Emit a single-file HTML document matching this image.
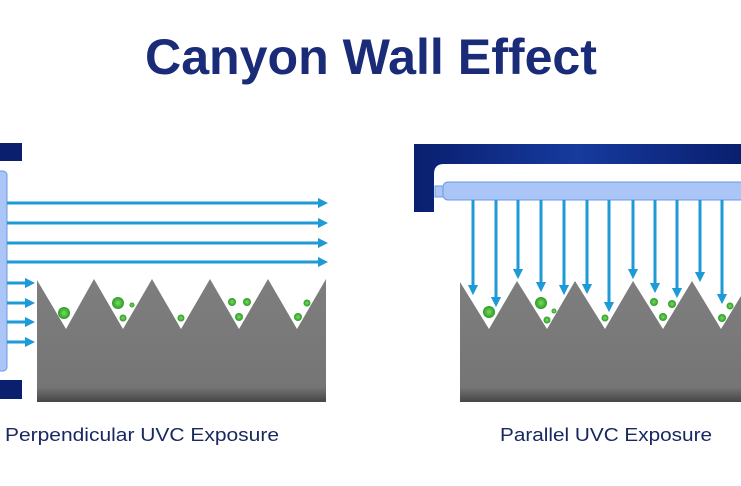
<!DOCTYPE html>
<html><head><meta charset="utf-8">
<style>
html,body{margin:0;padding:0;background:#fff;width:741px;height:486px;overflow:hidden}
svg{display:block}
text{font-family:"Liberation Sans",sans-serif}
</style></head>
<body>
<svg width="741" height="486" viewBox="0 0 741 486" xmlns="http://www.w3.org/2000/svg">
<defs>
<linearGradient id="wall" x1="0" y1="0" x2="0" y2="1">
<stop offset="0" stop-color="#7e7e7e"/><stop offset="0.88" stop-color="#757575"/><stop offset="1" stop-color="#454545"/>
</linearGradient>
<linearGradient id="brk" x1="0" y1="0" x2="1" y2="0">
<stop offset="0" stop-color="#0a1f6e"/><stop offset="0.5" stop-color="#163a9e"/><stop offset="1" stop-color="#0a1f6e"/>
</linearGradient>
<marker id="ah" markerWidth="3.4" markerHeight="3.4" refX="1.7" refY="1.7" orient="auto" markerUnits="strokeWidth">
<path d="M0,0 L3.4,1.7 L0,3.4 z" fill="#1e9ad6"/>
</marker>
<radialGradient id="vir"><stop offset="0" stop-color="#7ddc5a"/><stop offset="1" stop-color="#2a9a2a"/></radialGradient>
</defs>

<text x="371" y="74" text-anchor="middle" font-size="50" font-weight="bold" fill="#1a2b78" textLength="452" lengthAdjust="spacingAndGlyphs">Canyon Wall Effect</text>

<!-- LEFT -->
<rect x="0" y="143" width="22" height="18" fill="#0a1f6e"/>
<rect x="0" y="380" width="22" height="19" fill="#0a1f6e"/>
<rect x="-6" y="171" width="13" height="200" rx="4" fill="#a9c6f7" stroke="#6d98e6" stroke-width="1"/>
<g stroke="#1e9ad6" stroke-width="3" marker-end="url(#ah)">
<line x1="7" y1="203" x2="323" y2="203"/>
<line x1="7" y1="223" x2="323" y2="223"/>
<line x1="7" y1="243" x2="323" y2="243"/>
<line x1="7" y1="262" x2="323" y2="262"/>
<line x1="7" y1="283" x2="30" y2="283"/>
<line x1="7" y1="303" x2="30" y2="303"/>
<line x1="7" y1="322" x2="30" y2="322"/>
<line x1="7" y1="342" x2="30" y2="342"/>
</g>
<path d="M37,280 L66,329 L94,279 L123,329 L152,279 L181,329 L210,279 L239,329 L268,279 L297,329 L326,279 L326,402 L37,402 Z" fill="url(#wall)"/>
<g fill="url(#vir)">
<circle cx="64" cy="313" r="6"/><circle cx="118" cy="303" r="6"/><circle cx="132" cy="305" r="2.5"/><circle cx="123" cy="318" r="3.5"/>
<circle cx="181" cy="318" r="3.5"/><circle cx="232" cy="302" r="4"/><circle cx="247" cy="302" r="4"/><circle cx="239" cy="317" r="4"/>
<circle cx="307" cy="303" r="3.5"/><circle cx="298" cy="317" r="4"/>
</g>

<!-- RIGHT -->
<path d="M414,144 L741,144 L741,164 L444,164 Q434,164 434,174 L434,212 L414,212 Z" fill="url(#brk)"/>
<rect x="435" y="186" width="10" height="11" fill="#a9c6f7" stroke="#6d98e6"/>
<rect x="443" y="182" width="310" height="18" rx="5" fill="#a9c6f7" stroke="#6d98e6"/>
<g stroke="#1e9ad6" stroke-width="3" marker-end="url(#ah)">
<line x1="473" y1="200" x2="473" y2="290"/>
<line x1="496" y1="200" x2="496" y2="302"/>
<line x1="518" y1="200" x2="518" y2="274"/>
<line x1="541" y1="200" x2="541" y2="287"/>
<line x1="564" y1="200" x2="564" y2="290"/>
<line x1="587" y1="200" x2="587" y2="289"/>
<line x1="609" y1="200" x2="609" y2="307"/>
<line x1="633" y1="200" x2="633" y2="274"/>
<line x1="655" y1="200" x2="655" y2="288"/>
<line x1="677" y1="200" x2="677" y2="293"/>
<line x1="700" y1="200" x2="700" y2="277"/>
<line x1="722" y1="200" x2="722" y2="299"/>
</g>
<path d="M460,282 L489,329 L517,281 L547,329 L575,281 L605,329 L633,281 L663,329 L692,281 L721,329 L750,281 L750,402 L460,402 Z" fill="url(#wall)"/>
<g fill="url(#vir)">
<circle cx="489" cy="312" r="6"/><circle cx="541" cy="303" r="6"/><circle cx="554" cy="311" r="2.5"/><circle cx="547" cy="320" r="3.5"/>
<circle cx="605" cy="318" r="3.5"/><circle cx="654" cy="302" r="4"/><circle cx="672" cy="304" r="4"/><circle cx="663" cy="317" r="4"/>
<circle cx="730" cy="306" r="3.5"/><circle cx="722" cy="318" r="4"/>
</g>

<text x="5" y="441" font-size="18" fill="#182860" textLength="274" lengthAdjust="spacingAndGlyphs">Perpendicular UVC Exposure</text>
<text x="500" y="441" font-size="18" fill="#182860" textLength="212" lengthAdjust="spacingAndGlyphs">Parallel UVC Exposure</text>
</svg>
</body></html>
